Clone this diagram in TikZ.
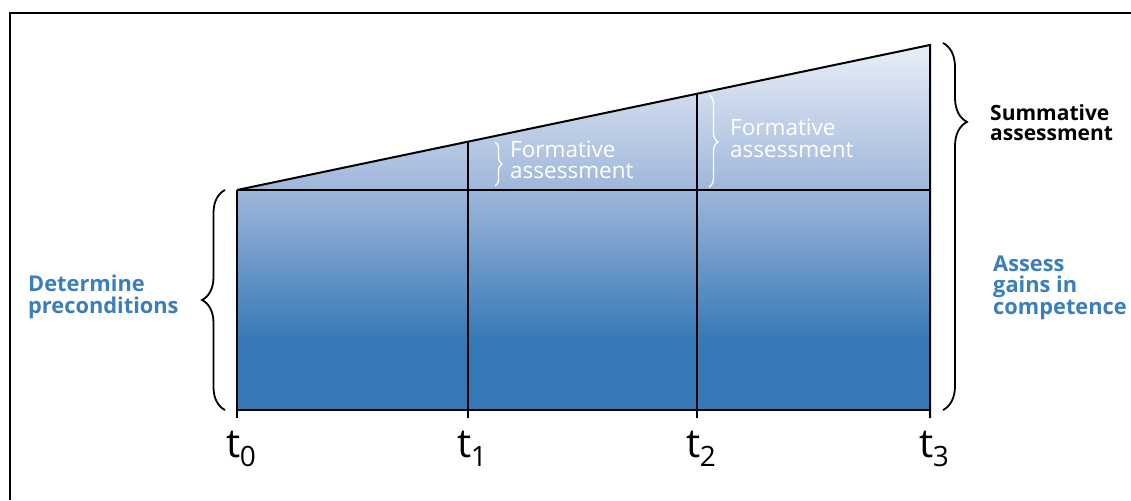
\documentclass[tikz,border=0pt]{standalone}
\usepackage{fontspec}
\setmainfont{Open Sans}
\usetikzlibrary{decorations.pathreplacing,calc}
\definecolor{cdark}{HTML}{3579B6}
\definecolor{cmid}{HTML}{9FB6DA}
\definecolor{clight}{HTML}{E8EEF7}
\definecolor{ctext}{HTML}{3A7EBE}
\pgfdeclareverticalshading{blueshade}{100bp}{color(0bp)=(cdark); color(34.6bp)=(cdark); color(55.1bp)=(cmid); color(75bp)=(clight); color(100bp)=(clight)}
\newcommand{\tlab}[1]{{\fontsize{40}{40}\selectfont t}\kern-0.5pt\raisebox{-9pt}{\fontsize{28}{28}\selectfont #1}}
\tikzset{
  mainline/.style={line width=2pt, black},
  bigbrace/.style={line width=1.8pt, black, decorate},
  smallbrace/.style={line width=1.3pt, white, decorate},
  bluelab/.style={text=ctext, font=\bfseries\fontsize{21.8}{21.5}\selectfont, align=left, inner sep=0pt},
  blacklab/.style={text=black, font=\bfseries\fontsize{21}{20}\selectfont, align=left, inner sep=0pt},
  whitelab/.style={text=white, font=\fontsize{22.5}{21}\selectfont, align=left, inner sep=0pt},
  tlabel/.style={anchor=base west, inner sep=0pt},
}
\begin{document}
\begin{tikzpicture}[x=1pt,y=-1pt]
\useasboundingbox (0,0) rectangle (1131,500);
% frame
\coordinate (fb) at (10,500);
\coordinate (ftl) at (10,13);
\coordinate (fr) at (1131,13);
\draw[line width=1.4pt] (fb) -- (ftl) -- (fr);
% key points
\coordinate (a0) at (237,190);
\coordinate (top3) at (930,45);
\coordinate (b0) at (237,410);
\coordinate (b1) at (468,410);
\coordinate (b2) at (697,410);
\coordinate (b3) at (930,410);
\coordinate (m3) at (930,190);
\coordinate (top1) at (468,141.7);
\coordinate (top2) at (697,93.8);
\coordinate (k0) at (237,418);
\coordinate (k1) at (468,418);
\coordinate (k2) at (697,418);
\coordinate (k3) at (930,418);
% shaded body
\fill[shading=blueshade] (a0) -- (top3) -- (b3) -- (b0) -- cycle;
\draw[mainline, line join=miter] (a0) -- (top3) -- (k3);
\draw[mainline] (a0) -- (k0);
\draw[mainline] (b0) -- (b3);
\draw[mainline] (a0) -- (m3);
\draw[mainline] (top1) -- (k1);
\draw[mainline] (top2) -- (k2);
% braces
\coordinate (lbB) at (225,410);
\coordinate (lbT) at (225,190);
\draw[bigbrace, decoration={brace, amplitude=23pt}] (lbB) -- (lbT);
\coordinate (rbT) at (943,43);
\coordinate (rbB) at (943,410);
\draw[bigbrace, decoration={brace, amplitude=24pt, aspect=0.215}] (rbT) -- (rbB);
\coordinate (f1T) at (495,142);
\coordinate (f1B) at (495,186);
\draw[smallbrace, decoration={brace, amplitude=7pt}] (f1T) -- (f1B);
\coordinate (f2T) at (709,95);
\coordinate (f2B) at (709,187);
\draw[smallbrace, decoration={brace, amplitude=9pt, aspect=0.51}] (f2T) -- (f2B);
% labels (base anchor = baseline of last line)
\node[blacklab, anchor=base west] (sum) at (990,140) {Summative\\assessment};
\node[bluelab, anchor=base west] (pre) at (28,313) {Determine\\preconditions};
\node[bluelab, anchor=base west] (gain) at (993,314) {Assess\\gains in\\competence};
\node[whitelab, anchor=base west] (form1) at (510,178) {Formative\\assessment};
\node[whitelab, anchor=base west] (form2) at (730,157) {Formative\\assessment};
% time labels
\node[tlabel] (t0) at ($(k0)+(-11,39)$) {\tlab{0}};
\node[tlabel] (t1) at ($(k1)+(-11,39)$) {\tlab{1}};
\node[tlabel] (t2) at ($(k2)+(-11,39)$) {\tlab{2}};
\node[tlabel] (t3) at ($(k3)+(-11,39)$) {\tlab{3}};
\end{tikzpicture}
\end{document}
